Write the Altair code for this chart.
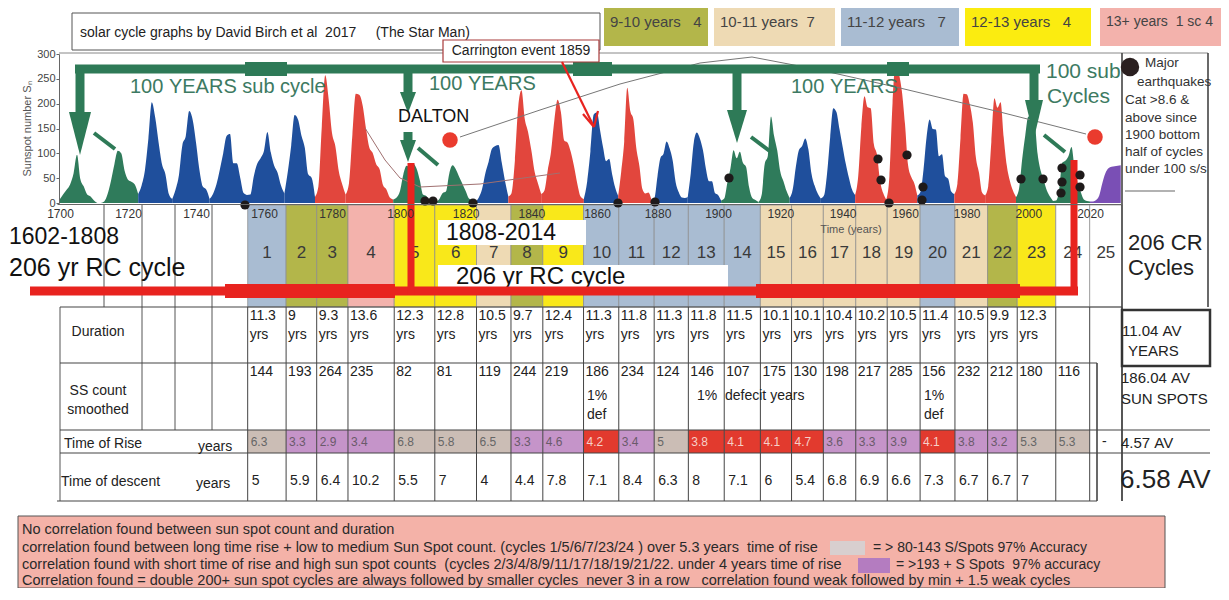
import altair as alt
import pandas as pd

FONT = "Liberation Sans, Arial, sans-serif"

# ---------------- data ----------------
YEAR0 = 1700
SSN = [
    8, 18, 27, 38, 60, 97, 48, 33, 17, 13,
    5, 0, 0, 3, 18, 45, 78, 105, 100, 65,
    47, 43, 37, 18, 35, 67, 130, 203, 172, 122,
    78, 58, 18, 8, 27, 57, 117, 135, 185, 168,
    122, 67, 33, 27, 8, 18, 37, 67, 100, 135,
    139, 80, 80, 51, 20, 16, 17, 54, 79, 90,
    105, 143, 102, 75, 61, 35, 19, 63, 116, 177,
    168, 136, 111, 58, 51, 12, 33, 154, 257, 210,
    141, 114, 64, 38, 17, 40, 138, 220, 218, 197,
    150, 111, 100, 78, 68, 36, 27, 11, 7, 11,
    24, 57, 75, 72, 79, 70, 47, 17, 14, 4,
    0, 2, 8, 20, 23, 59, 76, 68, 53, 39,
    24, 9, 6, 2, 11, 28, 60, 83, 109, 115,
    117, 81, 44, 13, 20, 86, 193, 227, 169, 143,
    106, 63, 40, 18, 25, 66, 103, 166, 208, 183,
    126, 122, 103, 74, 39, 13, 8, 43, 104, 178,
    182, 147, 112, 84, 89, 58, 31, 14, 63, 124,
    232, 185, 169, 110, 75, 28, 19, 21, 6, 10,
    54, 91, 99, 124, 110, 86, 42, 22, 11, 10,
    12, 60, 122, 142, 130, 107, 69, 44, 44, 20,
    16, 5, 9, 41, 70, 106, 90, 103, 81, 73,
    31, 10, 6, 2, 16, 79, 95, 174, 135, 106,
    63, 44, 24, 10, 28, 74, 107, 115, 130, 108,
    59, 35, 19, 9, 15, 60, 133, 191, 183, 148,
    113, 79, 51, 27, 16, 55, 154, 215, 193, 191,
    119, 98, 45, 20, 7, 54, 201, 283, 262, 225,
    159, 76, 53, 40, 15, 22, 67, 133, 168, 149,
    148, 94, 98, 54, 49, 23, 18, 39, 131, 220,
    219, 199, 162, 91, 61, 21, 15, 34, 123, 211,
    192, 203, 133, 76, 45, 25, 12, 29, 88, 136,
    174, 170, 164, 99, 65, 46, 25, 13, 4, 5,
    25, 81, 85, 94, 113, 70, 40, 22, 7, 4,
    3, 3, 6, 15, 40, 60, 70, 73, 74, 75, 76,
]
SEG_BOUNDS = [1700, 1711, 1723, 1733, 1744, 1755, 1766, 1775, 1784, 1798, 1810,
              1823, 1833, 1843, 1856, 1867, 1878, 1890, 1901, 1913, 1923, 1933,
              1944, 1954, 1964, 1976, 1986, 1996, 2008, 2020, 2030]
SEG_KIND = ["G", "G", "B", "B", "B", "B", "B", "R", "R", "G", "G", "B", "R", "R", "B",
            "R", "B", "B", "G", "G", "B", "B", "R", "R", "B", "R", "R", "G", "G", "P"]

CYCLES = list(range(1, 26))
CYCLE_START = [1755.2, 1766.5, 1775.5, 1784.7, 1798.3, 1810.6, 1823.3, 1833.8, 1843.5,
               1855.9, 1867.2, 1878.9, 1890.2, 1902.0, 1913.6, 1923.6, 1933.8, 1944.2,
               1954.3, 1964.9, 1976.2, 1986.8, 1996.4, 2008.9, 2019.9]
LAST_END = 2030.4
DURATION = [11.3, 9, 9.3, 13.6, 12.3, 12.8, 10.5, 9.7, 12.4, 11.3, 11.8, 11.3, 11.8,
            11.5, 10.1, 10.1, 10.4, 10.2, 10.5, 11.4, 10.5, 9.9, 12.3, None, None]
SS_COUNT = [144, 193, 264, 235, 82, 81, 119, 244, 219, 186, 234, 124, 146, 107, 175,
            130, 198, 217, 285, 156, 232, 212, 180, 116, None]
RISE = [6.3, 3.3, 2.9, 3.4, 6.8, 5.8, 6.5, 3.3, 4.6, 4.2, 3.4, 5, 3.8, 4.1, 4.1, 4.7,
        3.6, 3.3, 3.9, 4.1, 3.8, 3.2, 5.3, 5.3, None]
RISE_CLASS = ["L", "S", "S", "S", "L", "L", "L", "S", "S", "M", "S", "L", "M", "M", "M",
              "M", "S", "S", "S", "M", "S", "S", "L", "L", ""]
DESCENT = [5, 5.9, 6.4, 10.2, 5.5, 7, 4, 4.4, 7.8, 7.1, 8.4, 6.3, 8, 7.1, 6, 5.4, 6.8,
           6.9, 6.6, 7.3, 6.7, 6.7, 7, None, None]
AXIS_YEARS = list(range(1700, 2021, 20))
SSN_TICKS = [0, 50, 100, 150, 200, 250, 300]
LEGEND_LABELS = ["9-10 years   4", "10-11 years  7", "11-12 years   7",
                 "12-13 years   4", "13+ years  1 sc 4"]
QUAKES = [(245, 205), (425, 201), (433, 201), (473, 203), (618, 203), (655, 202),
          (729, 178), (878, 159), (881, 180), (889, 203), (907, 155), (923, 187),
          (922, 200), (1021, 179), (1043, 179), (1062, 168), (1062, 182), (1061, 193),
          (1080, 175), (1080, 187)]
NOTES = [
    "No correlation found between sun spot count and duration",
    "correlation found between long time rise + low to medium Sun Spot count. (cycles 1/5/6/7/23/24 ) over 5.3 years  time of rise",
    "correlation found with short time of rise and high sun spot counts  (cycles 2/3/4/8/9/11/17/18/19/21/22. under 4 years time of rise",
    "Correlation found = double 200+ sun spot cycles are always followed by smaller cycles  never 3 in a row   correlation found weak followed by min + 1.5 weak cycles",
]

# ---------------- styles / layout ----------------
PAL = {"G": "#2f7b5b", "B": "#1f4f9c", "R": "#e2463d", "P": "#7a4fb5"}
OLIVE, TAN, BLUEG, YELLOW, PINK = "#b3b64a", "#eedab4", "#a9bcd2", "#f9e81a", "#f3b2ac"
RISE_FILL = {"L": "#cbbdb5", "S": "#c594c9", "M": "#e23a2e", "": "#ffffff"}
RISE_TXT = {"L": "#666666", "S": "#6a5a6a", "M": "#f6d0c8", "": "#333333"}
GREEN = "#2e7a57"
RED = "#e8231f"

W, H = 1213, 580
OX, OY = 8, 8
PXS = alt.Scale(domain=[OX, OX + W], range=[0, W], nice=False, zero=False)
PYS = alt.Scale(domain=[OY, OY + H], range=[0, H], nice=False, zero=False)
XS = alt.Scale(domain=[1699, 1700, 1800, 1860, 1900, 1960, 2020, 2030.4],
               range=[v - OX for v in [57, 60, 400, 597, 718, 905, 1090, 1122]],
               nice=False, zero=False)
SY = alt.Scale(domain=[0, 300], range=[203 - OY, 54 - OY], nice=False, zero=False)


def nb(s):
    return s.replace(" ", "\u00a0")


def fmt(v):
    return "" if v is None else ("%g" % v)


def px(f):
    return alt.X(f + ":Q", scale=PXS, axis=None)


def py(f):
    return alt.Y(f + ":Q", scale=PYS, axis=None)


def yx(f):
    return alt.X(f + ":Q", scale=XS, axis=None)


def T(rows, size=14, color="#222222", align="left", weight="normal"):
    df = pd.DataFrame([(x, y, nb(t)) for x, y, t in rows], columns=["x", "y", "t"])
    return alt.Chart(df).mark_text(align=align, baseline="middle", fontSize=size,
                                   color=color, font=FONT, fontWeight=weight).encode(
        x=px("x"), y=py("y"), text="t:N")


def R(rows, stroke=None, sw=1.0):
    df = pd.DataFrame(rows, columns=["x", "y", "x2", "y2", "fill"])
    kw = {}
    if stroke:
        kw["stroke"] = stroke
        kw["strokeWidth"] = sw
    return alt.Chart(df).mark_rect(**kw).encode(
        x=px("x"), y=py("y"), x2="x2:Q", y2="y2:Q", fill=alt.Fill("fill:N", scale=None))


def LN(rows, color, width, cap="butt"):
    df = pd.DataFrame(rows, columns=["x", "y", "x2", "y2"])
    return alt.Chart(df).mark_rule(color=color, strokeWidth=width, strokeCap=cap).encode(
        x=px("x"), y=py("y"), x2="x2:Q", y2="y2:Q")


def PL(pts, color, width):
    df = pd.DataFrame([(i, x, y) for i, (x, y) in enumerate(pts)], columns=["o", "x", "y"])
    return alt.Chart(df).mark_line(color=color, strokeWidth=width).encode(
        x=px("x"), y=py("y"), order="o:Q")


def TRI(tris, color):
    rows = []
    for k, (cx, top, tip, h) in enumerate(tris):
        rows += [(k, cx - h, top, top), (k, cx, top, tip), (k, cx + h, top, top)]
    df = pd.DataFrame(rows, columns=["k", "x", "y", "y2"])
    return alt.Chart(df).mark_area(color=color).encode(
        x=px("x"), y=alt.Y("y:Q", scale=PYS, axis=None, stack=None), y2="y2:Q", detail="k:N")


def DOTS(pts, color, size):
    df = pd.DataFrame(pts, columns=["x", "y"])
    return alt.Chart(df).mark_circle(color=color, size=size, opacity=1).encode(x=px("x"), y=py("y"))


def dur_fill(d):
    if d is None:
        return "#ffffff"
    if d < 10:
        return OLIVE
    if d < 11:
        return TAN
    if d < 12:
        return BLUEG
    if d < 13:
        return YELLOW
    return PINK


layers = []

# ---- top header ----
layers.append(R([(72, 13, 600, 50, "#ffffff")], stroke="#555555", sw=1))
layers.append(T([(80, 33, "solar cycle graphs by David Birch et al  2017     (The Star Man)")], size=14))
leg_x = [(604, 708), (714, 835), (841, 959), (965, 1091), (1100, 1229)]
leg_fill = [OLIVE, TAN, BLUEG, "#fbec10", PINK]
leg_rows = []
for (a, b), f in zip(leg_x, leg_fill):
    top = 4 if f == "#fbec10" else 8
    leg_rows.append((a, top, b, 46, f))
layers.append(R(leg_rows))
leg_size = [15, 15, 15, 15, 14]
for (a, b), lab, sz in zip(leg_x, LEGEND_LABELS, leg_size):
    layers.append(T([(a + 6, 22, lab)], size=sz, color="#444444"))

# ---- table band (cycle columns) ----
ends = CYCLE_START[1:] + [LAST_END]
cyc = pd.DataFrame({"n": [str(c) for c in CYCLES], "start": CYCLE_START, "end": ends})
cyc["mid"] = (cyc["start"] + cyc["end"]) / 2
cyc["fill"] = [dur_fill(d) for d in DURATION]
cyc["dur"] = [fmt(d) for d in DURATION]
cyc["yrs"] = ["yrs" if d is not None else "" for d in DURATION]
cyc["ss"] = [fmt(v) for v in SS_COUNT]
cyc["rise"] = [fmt(v) for v in RISE]
cyc["rfill"] = [RISE_FILL[c] for c in RISE_CLASS]
cyc["rtxt"] = [RISE_TXT[c] for c in RISE_CLASS]
cyc["desc"] = [fmt(v) for v in DESCENT]
cyc["b0"], cyc["b1"] = 205, 307
cyc["r0"], cyc["r1"] = 430, 453

layers.append(alt.Chart(cyc).mark_rect(stroke="#8a8a8a", strokeWidth=0.7).encode(
    x=yx("start"), x2="end:Q", y=py("b0"), y2="b1:Q", fill=alt.Fill("fill:N", scale=None)))
# rise cells
layers.append(alt.Chart(cyc).mark_rect().encode(
    x=yx("start"), x2="end:Q", y=py("r0"), y2="r1:Q", fill=alt.Fill("rfill:N", scale=None)))

# ---- plot frame ----
layers.append(LN([(59, 53, 1208, 53)], "#888888", 1))

# ---- sunspot areas ----
rows = []
for s in range(len(SEG_BOUNDS) - 1):
    for yr in range(SEG_BOUNDS[s], SEG_BOUNDS[s + 1] + 1):
        rows.append(("s%02d" % s, yr, SSN[yr - YEAR0]))
ss_df = pd.DataFrame(rows, columns=["seg", "year", "ssn"])
seg_ids = ["s%02d" % s for s in range(len(SEG_KIND))]
area = alt.Chart(ss_df).mark_area(opacity=1, interpolate="monotone").encode(
    x=alt.X("year:Q", scale=XS,
            axis=alt.Axis(values=AXIS_YEARS, format="d", title=None, grid=False,
                          offset=-(H - 196), ticks=False, domain=True, domainColor="#666666",
                          labelFontSize=12, labelColor="#333333", labelFont=FONT,
                          labelPadding=4, labelFlush=False, labelOverlap=False, zindex=2)),
    y=alt.Y("ssn:Q", scale=SY, stack=None,
            axis=alt.Axis(values=SSN_TICKS, title="Sunspot number Sₙ", grid=False,
                          offset=-51, labelFontSize=11, labelColor="#444444", labelFont=FONT,
                          tickSize=3, tickColor="#666666", domainColor="#666666",
                          labelPadding=1, titleFontSize=11, titleFontWeight="normal",
                          titleColor="#555555", titleFont=FONT, titlePadding=4, zindex=2)),
    color=alt.Color("seg:N", scale=alt.Scale(domain=seg_ids, range=[PAL[k] for k in SEG_KIND]),
                    legend=None),
)
layers.append(area)

# thin trend curves
layers.append(PL([(460, 137), (540, 110), (620, 84), (700, 63), (752, 57), (820, 70),
                  (900, 88), (1000, 112), (1086, 134)], "#777777", 1))
layers.append(PL([(365, 128), (385, 160), (400, 178), (420, 187), (480, 184), (560, 173)],
                 "#a07070", 1))

# ---- table grid ----
grid_v = alt.Chart(pd.DataFrame({"x": CYCLE_START + [LAST_END], "a": 307, "b": 501})).mark_rule(
    color="#444444", strokeWidth=1).encode(x=yx("x"), y=py("a"), y2="b:Q")
layers.append(grid_v)
layers.append(LN([(104, 205, 104, 307), (142, 205, 142, 430), (175, 205, 175, 430),
                  (212, 205, 212, 430), (60, 307, 60, 501)], "#555555", 1))
layers.append(LN([(60, 307, 1122, 307), (60, 363, 1097, 363), (60, 430, 1210, 430),
                  (60, 453, 1210, 453), (57, 501, 1097, 501)], "#444444", 1.2))
layers.append(LN([(1097, 363, 1097, 501), (1122, 53, 1122, 501), (1208, 53, 1208, 307)],
                 "#444444", 1.6))
layers.append(R([(1122, 310, 1210, 366, "#ffffff")], stroke="#333333", sw=2.5))

# ---- table texts ----
def CT(field, ypix, size=14, dx=2, color="#222222", align="left", xfield="start"):
    d = cyc[cyc[field] != ""].copy()
    d["yy"] = ypix
    return alt.Chart(d).mark_text(align=align, baseline="middle", fontSize=size, color=color,
                                  font=FONT, dx=dx).encode(x=yx(xfield), y=py("yy"),
                                                           text=field + ":N")

layers.append(CT("dur", 316, size=14))
layers.append(CT("yrs", 335, size=14))
layers.append(CT("ss", 372, size=14))
rd = cyc[cyc["rise"] != ""].copy()
rd["yy"] = 442
layers.append(alt.Chart(rd).mark_text(align="left", baseline="middle", fontSize=12, font=FONT,
                                      dx=3).encode(x=yx("start"), y=py("yy"), text="rise:N",
                                                   color=alt.Color("rtxt:N", scale=None)))
layers.append(CT("desc", 481, size=14, dx=4))

layers.append(T([(98, 332, "Duration"), (98, 391, "SS count"), (98, 410, "smoothed")],
                size=14, align="center"))
layers.append(T([(64, 444, "Time of Rise"), (198, 447, "years"), (61, 482, "Time of descent"),
                 (196, 484, "years"), (587, 396, "1%"), (587, 415, "def"),
                 (697, 396, "1%  defecit years"), (924, 396, "1%"), (924, 415, "def"),
                 (1102, 442, "-")], size=14))
layers.append(T([(1122, 331, "11.04 AV"), (1128, 351, "YEARS"), (1121, 378, "186.04 AV"),
                 (1121, 399, "SUN SPOTS"), (1121, 443, "4.57 AV")], size=15))
layers.append(T([(1120, 480, "6.58 AV")], size=26))
layers.append(T([(1128, 243, "206 CR"), (1128, 268, "Cycles")], size=22))
layers.append(T([(851, 230, "Time (years)")], size=11, color="#555555", align="center"))

# ---- RC cycle labels ----
layers.append(R([(438, 220, 586, 245, "#ffffff"), (438, 265, 728, 287, "#ffffff")]))
layers.append(CT("n", 253, size=17, dx=0, color="#3a3a3a", align="center", xfield="mid"))
layers.append(T([(9, 237, "1602-1808"), (446, 233, "1808-2014")], size=23, color="#111111"))
layers.append(T([(9, 268, "206 yr RC cycle")], size=25, color="#111111"))
layers.append(T([(456, 277, "206 yr RC cycle")], size=24, color="#111111"))

# ---- red lines ----
layers.append(LN([(30, 291, 1078, 291)], RED, 9))
layers.append(LN([(225, 291, 395, 291), (756, 291, 1020, 291)], RED, 14))
layers.append(LN([(411, 163, 411, 295), (1074, 160, 1074, 295)], RED, 7))

# ---- green arrows ----
layers.append(LN([(75, 69, 1040, 69)], GREEN, 9))
layers.append(LN([(245, 69, 287, 69), (573, 69, 612, 69), (887, 69, 909, 69)], GREEN, 14))
layers.append(LN([(80, 65, 80, 114), (408, 65, 408, 94), (408, 132, 408, 142),
                  (737, 65, 737, 112), (1034, 65, 1034, 102)], GREEN, 9))
layers.append(TRI([(80, 112, 155, 11), (408, 92, 113, 8), (408, 140, 162, 8),
                   (737, 110, 143, 10), (1034, 100, 138, 9)], GREEN))
layers.append(LN([(94, 133, 115, 149), (418, 148, 438, 165), (751, 137, 771, 152),
                  (1044, 135, 1065, 152)], GREEN, 4))

# ---- circles / quakes ----
layers.append(DOTS([(450, 140), (1095, 137)], "#ea3b2e", 240))
layers.append(DOTS(QUAKES, "#1e1a1a", 85))
layers.append(DOTS([(1130, 67)], "#2a1f1f", 340))

# ---- annotations ----
layers.append(T([(130, 87, "100 YEARS sub cycle"), (429, 84, "100 YEARS"), (791, 87, "100 YEARS")],
                size=20, color="#3d7a62"))
layers.append(T([(1046, 72, "100 sub"), (1047, 97, "Cycles")], size=21, color="#3d7a62"))
layers.append(T([(398, 117, "DALTON")], size=18, color="#111111"))
layers.append(R([(443, 40, 599, 62, "#ffffff")], stroke="#a83a3a", sw=1.2))
layers.append(T([(521, 51, "Carrington event 1859")], size=14, align="center"))
layers.append(LN([(562, 62, 594, 127), (594, 127, 583, 114), (594, 127, 598, 111)], RED, 2.2))
layers.append(T([(1145, 63, "Major"), (1137, 82, "earthquakes"), (1125, 100, "Cat >8.6 &"),
                 (1125, 118, "above since"), (1125, 135, "1900 bottom"),
                 (1125, 152, "half of cycles"), (1125, 169, "under 100 s/s")],
                size=13.5, color="#333333"))
layers.append(LN([(1125, 191, 1175, 191)], "#999999", 1.5))

# ---- notes box ----
layers.append(R([(18, 516, 1165, 588, "#f4b2a8")], stroke="#555555", sw=1))
layers.append(R([(830, 541, 865, 555, "#d8cfcf"), (858, 558, 890, 573, "#b47cc0")]))
layers.append(T([(22, 530, NOTES[0]), (22, 548, NOTES[1]), (22, 565, NOTES[2]),
                 (22, 581, NOTES[3])], size=14.5, color="#2a2a2a"))
layers.append(T([(873, 548, "= > 80-143 S/Spots 97% Accuracy"),
                 (896, 565, "= >193 + S Spots  97% accuracy")], size=14, color="#2a2a2a"))

chart = alt.layer(*layers).resolve_scale(x="independent", y="independent").properties(
    width=W, height=H, padding=0, background="white",
    autosize=alt.AutoSizeParams(type="none"),
).configure_view(stroke=None)

chart.save("out.html", embed_options={"renderer": "svg", "actions": False})
